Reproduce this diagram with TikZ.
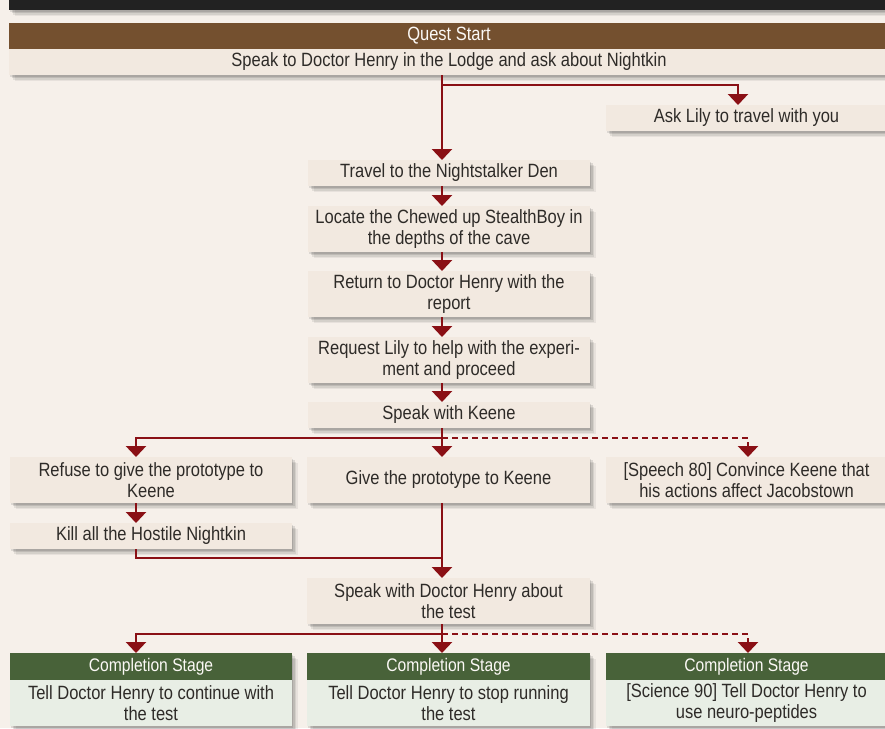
\documentclass[tikz,border=0pt]{standalone}
\usepackage{fontspec}
\setmainfont{Liberation Sans}[FakeStretch=0.86]
\usetikzlibrary{arrows.meta,shadows,calc}
\definecolor{bg}{HTML}{F6F0EA}
\definecolor{boxfill}{HTML}{F2E9E0}
\definecolor{brownhd}{HTML}{74502F}
\definecolor{greenhd}{HTML}{486239}
\definecolor{greenbody}{HTML}{E8EEE5}
\definecolor{arrred}{HTML}{8A1015}
\definecolor{txt}{HTML}{2E2B28}
\definecolor{topbar}{HTML}{222222}
\begin{document}
\begin{tikzpicture}[x=1pt,y=-1pt,
  every node/.style={inner sep=0pt, outer sep=0pt},
  shad/.style={
    drop shadow={shadow xshift=1pt,shadow yshift=-1.5pt,opacity=.10,fill=black},
    drop shadow={shadow xshift=2.5pt,shadow yshift=-3pt,opacity=.10,fill=black},
    drop shadow={shadow xshift=4pt,shadow yshift=-4.5pt,opacity=.08,fill=black},
    drop shadow={shadow xshift=5.5pt,shadow yshift=-6pt,opacity=.06,fill=black}},
  stepbox/.style={shad, fill=boxfill, anchor=north west, align=center, text=txt,
    font=\fontsize{19.2}{20.5}\selectfont},
  hdr/.style={shad, anchor=north west, text=white!95!brown, minimum height=27pt,
    font=\fontsize{18.2}{20}\selectfont},
  combody/.style={stepbox, fill=greenbody, minimum height=46pt},
  ln/.style={draw=arrred, line width=2.6pt, line join=miter},
  arr/.style={ln, -{Triangle[width=20pt,length=11pt]}},
  dsh/.style={dash pattern=on 6pt off 4pt}
]
\fill[bg] (0,0) rectangle (885,728);
\useasboundingbox (0,0) rectangle (885,728);

% top dark bar
\path[fill=topbar, shad] (9,-5) rectangle (890,10);

% column reference x positions
\coordinate (cx) at (442,0);
\coordinate (lx) at (136,0);
\coordinate (rx) at (748,0);
\coordinate (lilyx) at (738,0);

% header
\node[hdr, fill=brownhd, minimum width=880pt, minimum height=26pt, font=\fontsize{19.2}{20}\selectfont] (qs) at (9,23) {Quest Start};
\node[stepbox, minimum width=880pt, minimum height=26pt] (start) at (9,49) {Speak to Doctor Henry in the Lodge and ask about Nightkin};

\node[stepbox, minimum width=281pt, minimum height=26pt] (lily) at (606,105) {Ask Lily to travel with you};
\node[stepbox, minimum width=282pt, minimum height=26pt] (travel) at (308,160) {Travel to the Nightstalker Den};
\node[stepbox, minimum width=282pt, minimum height=46pt] (locate) at (308,206) {Locate the Chewed up StealthBoy in\\the depths of the cave};
\node[stepbox, minimum width=282pt, minimum height=46pt] (return) at (308,271) {Return to Doctor Henry with the\\report};
\node[stepbox, minimum width=282pt, minimum height=46pt] (request) at (308,337) {Request Lily to help with the experi-\\ment and proceed};
\node[stepbox, minimum width=282pt, minimum height=26pt] (keene) at (308,402) {Speak with Keene};

\node[stepbox, minimum width=282pt, minimum height=46pt] (refuse) at (10,457) {Refuse to give the prototype to\\Keene};
\node[stepbox, minimum width=283pt, minimum height=46pt] (give) at (307,457) {Give the prototype to Keene};
\node[stepbox, minimum width=281pt, minimum height=46pt] (speech) at (606,457) {[Speech 80] Convince Keene that\\his actions affect Jacobstown};
\node[stepbox, minimum width=282pt, minimum height=26pt] (kill) at (10,523) {Kill all the Hostile Nightkin};

\node[stepbox, minimum width=283pt, minimum height=46pt] (henry) at (307,578) {Speak with Doctor Henry about\\the test};

\node[hdr, fill=greenhd, minimum width=282pt] (c1h) at (10,653) {Completion Stage};
\node[combody, minimum width=282pt] (c1) at (10,680) {Tell Doctor Henry to continue with\\the test};
\node[hdr, fill=greenhd, minimum width=283pt] (c2h) at (307,653) {Completion Stage};
\node[combody, minimum width=283pt] (c2) at (307,680) {Tell Doctor Henry to stop running\\the test};
\node[hdr, fill=greenhd, minimum width=281pt] (c3h) at (606,653) {Completion Stage};
\node[combody, minimum width=281pt] (c3) at (606,680) {[Science 90] Tell Doctor Henry to\\use neuro-peptides};

% branch coordinates
\coordinate (b1) at (442,85);
\coordinate (b2) at (442,438);
\coordinate (m1) at (442,558);
\coordinate (b3) at (442,634);

% connectors
\draw[arr] (start.south -| cx) -- (travel.north -| cx);
\draw[arr] (b1) -| (lily.north -| lilyx);
\draw[arr] (travel.south -| cx) -- (locate.north -| cx);
\draw[arr] (locate.south -| cx) -- (return.north -| cx);
\draw[arr] (return.south -| cx) -- (request.north -| cx);
\draw[arr] (request.south -| cx) -- (keene.north -| cx);

\draw[arr] (keene.south -| cx) -- (give.north -| cx);
\draw[arr] (b2) -| (refuse.north -| lx);
\draw[arr, dsh] (b2) -| (speech.north -| rx);

\draw[arr] (refuse.south -| lx) -- (kill.north -| lx);
\draw[ln] (kill.south -| lx) |- (m1);
\draw[arr] (give.south -| cx) -- (henry.north -| cx);

\draw[arr] (henry.south -| cx) -- (c2h.north -| cx);
\draw[arr] (b3) -| (c1h.north -| lx);
\draw[arr, dsh] (b3) -| (c3h.north -| rx);
\end{tikzpicture}
\end{document}
